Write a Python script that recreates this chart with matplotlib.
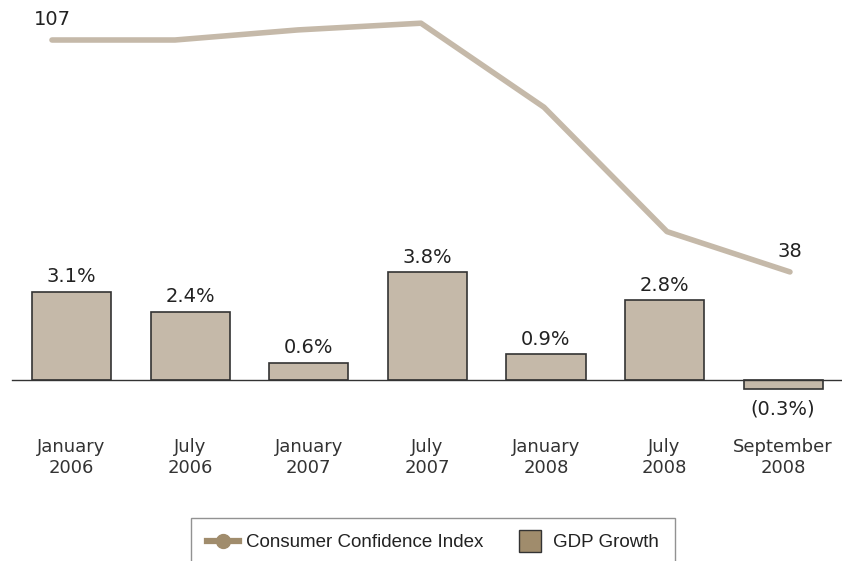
import matplotlib.pyplot as plt
from matplotlib.lines import Line2D

# ==============================================================
# data
periods = ['January\n2006', 'July\n2006', 'January\n2007', 'July\n2007',
           'January\n2008', 'July\n2008', 'September\n2008']
gdp_growth = [3.1, 2.4, 0.6, 3.8, 0.9, 2.8, -0.3]
confidence = [107, 107, 110, 112, 87, 50, 38]

bar_color = '#c5b9a9'
line_color = '#c5b9a9'
legend_color = '#a08c6c'
text_color = '#222222'

W, H = 842, 561
fig = plt.figure(figsize=(W / 100, H / 100), dpi=100)

# axes spanning pixel x 12..842, y 0..480 (from top)
rect = [12 / W, 1 - 480 / H, 830 / W, 480 / H]
ax = fig.add_axes(rect)
ax_line = fig.add_axes(rect)
ax_line.patch.set_visible(False)

# bars
x = list(range(len(periods)))
ax.bar(x, gdp_growth, width=0.667, color=bar_color,
       edgecolor='#333333', linewidth=1.2, zorder=2)
ax.set_xlim(-0.502, 6.496)
ax.set_ylim(-3.52, 13.38)

for xi, v in zip(x, gdp_growth):
    if v >= 0:
        ax.annotate(f'{v:.1f}%', (xi, v), xytext=(0, 4), textcoords='offset points',
                    ha='center', va='bottom', fontsize=14, color=text_color)
    else:
        ax.annotate(f'({abs(v):.1f}%)', (xi, v), xytext=(0, -8), textcoords='offset points',
                    ha='center', va='top', fontsize=14, color=text_color)

# baseline = bottom spine moved to zero
for name, s in ax.spines.items():
    s.set_visible(name == 'bottom')
ax.spines['bottom'].set_position(('data', 0))
ax.spines['bottom'].set_color('#333333')
ax.spines['bottom'].set_linewidth(1.0)
ax.spines['bottom'].set_zorder(3)

ax.set_xticks(x)
ax.set_xticklabels(periods, fontsize=13, color='#333333', linespacing=1.2)
ax.tick_params(axis='x', length=0, pad=42)
ax.set_yticks([])

# line (own x mapping)
ax_line.plot(range(len(confidence)), confidence, color=line_color, linewidth=4,
             solid_capstyle='round', solid_joinstyle='round', zorder=4)
ax_line.set_xlim(-0.325, 6.423)
ax_line.set_ylim(-23.9, 118.9)
ax_line.axis('off')

ax_line.annotate(str(confidence[0]), (0, confidence[0]), xytext=(0, 8),
                 textcoords='offset points', ha='center', va='bottom',
                 fontsize=14, color=text_color)
ax_line.annotate(str(confidence[-1]), (6, confidence[-1]), xytext=(0, 8),
                 textcoords='offset points', ha='center', va='bottom',
                 fontsize=14, color=text_color)

# legend
handles = [
    Line2D([0], [0], color=legend_color, linewidth=4.5, marker='o',
           markersize=10, markerfacecolor=legend_color, markeredgecolor=legend_color),
    Line2D([0], [0], linestyle='none', marker='s', markersize=16,
           markerfacecolor=legend_color, markeredgecolor='#333333', markeredgewidth=1.0),
]
leg = fig.legend(handles, ['Consumer Confidence Index', 'GDP Growth'],
                 loc='upper center', bbox_to_anchor=(433 / W, 1 - 509 / H),
                 ncol=2, frameon=True, fancybox=False,
                 prop={'family': 'Liberation Sans', 'size': 13.5},
                 handlelength=1.7, handletextpad=0.4, columnspacing=1.6,
                 borderpad=0.85)
leg.get_frame().set_edgecolor('#777777')
leg.get_frame().set_linewidth(1.0)
for t in leg.get_texts():
    t.set_color(text_color)

fig.savefig('out.png', dpi=100)
